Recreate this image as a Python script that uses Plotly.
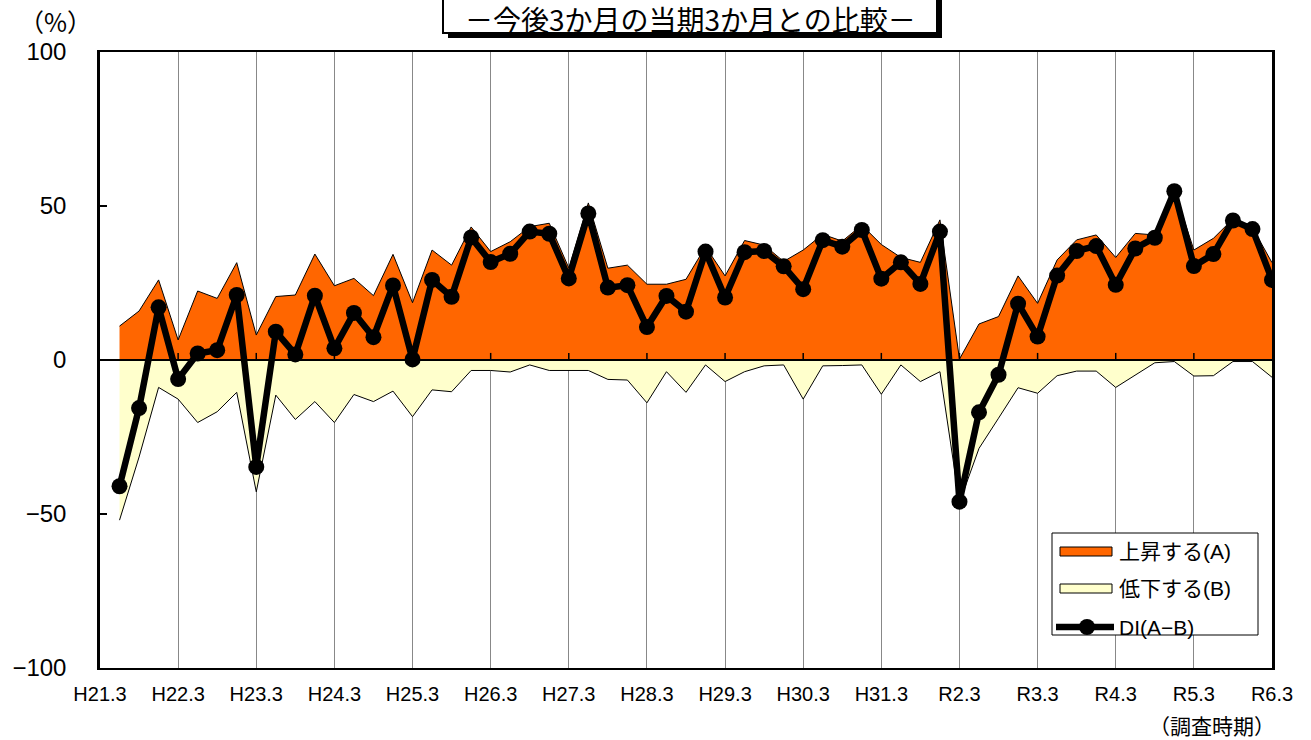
import plotly.graph_objects as go

# ---- data ----
tick_labels = ["H21.3", "H22.3", "H23.3", "H24.3", "H25.3", "H26.3", "H27.3", "H28.3",
               "H29.3", "H30.3", "H31.3", "R2.3", "R3.3", "R4.3", "R5.3", "R6.3"]

# 上昇する(A) %
rise_a = [11.0, 15.9, 26.0, 6.5, 22.4, 20.0, 31.6, 8.1, 20.6, 21.1,
          34.4, 24.1, 26.5, 20.9, 34.3, 18.6, 35.7, 30.8, 43.2, 35.2,
          38.4, 43.3, 44.4, 29.9, 51.0, 29.8, 30.8, 24.6, 24.6, 26.2,
          36.8, 27.3, 38.8, 37.3, 32.0, 35.7, 40.8, 38.6, 43.8, 37.5,
          33.3, 31.7, 45.5, 0.3, 11.7, 14.1, 27.3, 18.4, 32.5, 39.0,
          40.6, 33.3, 41.1, 40.6, 55.3, 35.7, 39.5, 45.8, 43.0, 31.6]

# 低下する(B) %
fall_b = [52.0, 31.5, 8.9, 12.7, 20.3, 16.8, 10.5, 42.8, 11.4, 19.3,
          13.5, 20.3, 11.2, 13.5, 10.1, 18.4, 9.7, 10.3, 3.4, 3.4,
          3.9, 1.6, 3.4, 3.4, 3.4, 6.3, 6.5, 13.9, 3.8, 10.5,
          1.6, 7.0, 3.8, 1.9, 1.6, 12.7, 1.9, 1.8, 1.6, 11.1,
          1.6, 7.0, 3.8, 46.3, 28.7, 18.9, 9.0, 10.8, 5.1, 3.6,
          3.6, 8.9, 4.9, 0.9, 0.5, 5.2, 5.1, 0.5, 0.5, 5.6]

# DI(A-B)
di = [-41.0, -15.6, 17.1, -6.2, 2.1, 3.2, 21.1, -34.7, 9.2, 1.8,
      20.9, 3.8, 15.3, 7.4, 24.2, 0.2, 26.0, 20.5, 39.8, 31.8,
      34.5, 41.7, 41.0, 26.5, 47.6, 23.5, 24.3, 10.7, 20.8, 15.7,
      35.2, 20.3, 35.0, 35.4, 30.4, 23.0, 38.9, 36.8, 42.2, 26.4,
      31.7, 24.7, 41.7, -46.0, -17.0, -4.8, 18.3, 7.6, 27.4, 35.4,
      37.0, 24.4, 36.2, 39.7, 54.8, 30.5, 34.4, 45.3, 42.5, 26.0]

legend_names = ["上昇する(A)", "低下する(B)", "DI(A−B)"]

# quarterly positions: H21.3 = 0, one step per quarter
x_pos = list(range(1, len(di) + 1))
tick_pos = list(range(0, 4 * len(tick_labels), 4))
fall_b_neg = [-v for v in fall_b]

COL_A = "#FF6600"
COL_B = "#FFFFCC"

# ---- layout geometry (pixels) ----
W, H = 1311, 740
L, R, T, B = 100, 39, 52, 72
PW, PH = W - L - R, H - T - B


def px(xp):
    return (xp - L) / PW


def py(yp):
    return (H - B - yp) / PH


FONT_LAT = "Liberation Sans, Arial, Noto Sans CJK JP, sans-serif"
FONT_JP = "Noto Sans CJK JP, Liberation Sans, sans-serif"
FONT_LEG = "Liberation Sans, Noto Sans CJK JP, sans-serif"

fig = go.Figure()

fig.add_trace(go.Scatter(
    x=x_pos, y=rise_a, name=legend_names[0], mode="lines",
    fill="tozeroy", fillcolor=COL_A,
    line=dict(color="black", width=1),
))
fig.add_trace(go.Scatter(
    x=x_pos, y=fall_b_neg, name=legend_names[1], mode="lines",
    fill="tozeroy", fillcolor=COL_B,
    line=dict(color="black", width=1),
))
fig.add_trace(go.Scatter(
    x=x_pos, y=di, name=legend_names[2], mode="lines+markers",
    line=dict(color="black", width=6.5),
    marker=dict(color="black", size=16),
))

shapes = []
# zero line (category axis crossing) with upward tick marks
shapes.append(dict(type="line", xref="x", yref="y", x0=0, x1=tick_pos[-1], y0=0, y1=0,
                   line=dict(color="black", width=2), layer="above"))
for tp in tick_pos[1:-1]:
    shapes.append(dict(type="line", xref="x", yref="y", x0=tp, x1=tp, y0=0, y1=2.3,
                       line=dict(color="black", width=1.5), layer="above"))

# title box with drop shadow
shapes.append(dict(type="rect", xref="paper", yref="paper",
                   x0=px(448), x1=px(942), y0=py(38), y1=py(-5),
                   fillcolor="black", line=dict(width=0), layer="above"))
shapes.append(dict(type="rect", xref="paper", yref="paper",
                   x0=px(443), x1=px(937), y0=py(33), y1=py(-10),
                   fillcolor="white", line=dict(color="black", width=2), layer="above"))

# legend box (drawn as in the reference: framed box with swatches)
shapes.append(dict(type="rect", xref="paper", yref="paper",
                   x0=px(1052), x1=px(1258), y0=py(635), y1=py(533),
                   fillcolor="white", line=dict(color="black", width=1), layer="above"))
shapes.append(dict(type="rect", xref="paper", yref="paper",
                   x0=px(1060), x1=px(1112), y0=py(556), y1=py(547),
                   fillcolor=COL_A, line=dict(color="black", width=1), layer="above"))
shapes.append(dict(type="rect", xref="paper", yref="paper",
                   x0=px(1060), x1=px(1112), y0=py(593), y1=py(584),
                   fillcolor=COL_B, line=dict(color="black", width=1), layer="above"))
shapes.append(dict(type="line", xref="paper", yref="paper",
                   x0=px(1056), x1=px(1114), y0=py(627), y1=py(627),
                   line=dict(color="black", width=6.5), layer="above"))
shapes.append(dict(type="circle", xref="paper", yref="paper",
                   x0=px(1079), x1=px(1095), y0=py(635), y1=py(619),
                   fillcolor="black", line=dict(color="black", width=0), layer="above"))

annotations = [
    dict(text="－今後3か月の当期3か月との比較－", xref="paper", yref="paper",
         x=px(690), y=py(19), showarrow=False, xanchor="center", yanchor="middle",
         font=dict(family=FONT_JP, size=28, color="black")),
    dict(text="（%）", xref="paper", yref="paper",
         x=px(55), y=py(21), showarrow=False, xanchor="center", yanchor="middle",
         font=dict(family=FONT_JP, size=25, color="black")),
    dict(text="（調査時期）", xref="paper", yref="paper",
         x=px(1212), y=py(725), showarrow=False, xanchor="center", yanchor="middle",
         font=dict(family=FONT_JP, size=21, color="black")),
]
for name, yc in zip(legend_names, [551, 588, 627]):
    annotations.append(dict(text=name, xref="paper", yref="paper",
                            x=px(1117), y=py(yc), showarrow=False,
                            xanchor="left", yanchor="middle",
                            font=dict(family=FONT_LEG, size=21, color="black")))

fig.update_layout(
    width=W, height=H, autosize=False,
    margin=dict(l=L, r=R, t=T, b=B, pad=0),
    paper_bgcolor="white", plot_bgcolor="white",
    font=dict(family=FONT_LAT, color="black"),
    shapes=shapes, annotations=annotations,
    showlegend=False,
    xaxis=dict(
        range=[0, tick_pos[-1]], tickmode="array", tickvals=tick_pos, ticktext=tick_labels,
        ticks="", showgrid=True, gridcolor="#888888", gridwidth=1.2,
        showline=True, linecolor="black", linewidth=2, mirror=True,
        zeroline=False, tickfont=dict(family=FONT_LAT, size=20),
        ticklabelstandoff=7, fixedrange=True,
    ),
    yaxis=dict(
        range=[-100, 100], tickmode="linear", tick0=-100, dtick=50,
        ticks="inside", ticklen=7, tickwidth=1.5, tickcolor="black",
        showgrid=False, zeroline=False,
        showline=True, linecolor="black", linewidth=2.5, mirror=True,
        tickfont=dict(family=FONT_LAT, size=24), ticklabelstandoff=26,
        fixedrange=True,
    ),
)

fig.write_html("out.html", config={"displayModeBar": False},
               post_script="document.body.style.margin='0';")
